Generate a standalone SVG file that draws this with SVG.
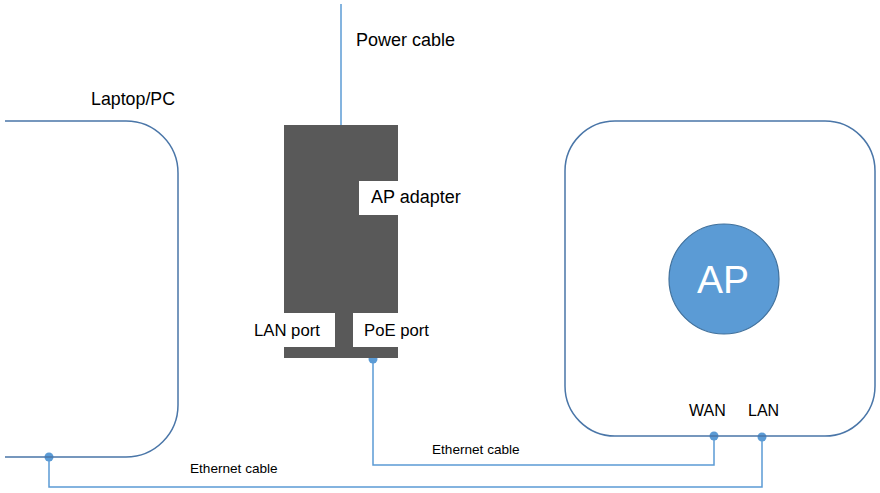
<svg xmlns="http://www.w3.org/2000/svg" width="880" height="493" viewBox="0 0 880 493">
<style>
text{font-family:"Liberation Sans",Arial,sans-serif;fill:#000}
.box{fill:none;stroke:#4a76a8;stroke-width:1.5}
.cable{fill:none;stroke:#5b9bd5;stroke-width:1.5}
.dot{fill:#5b9bd5}
.cut{fill:#fff}
</style>
<rect width="880" height="493" fill="#fff"/>
<g id="connectors">
<line class="cable" x1="341" y1="4" x2="341" y2="125"/>
<polyline class="cable" points="373,358 373,465 714,465 714,436"/>
<polyline class="cable" points="49,457 49,487 762,487 762,437"/>
<circle class="dot" cx="373" cy="359" r="4.5"/>
<circle class="dot" cx="714" cy="436" r="4.5"/>
<circle class="dot" cx="762" cy="437" r="4.5"/>
<circle class="dot" cx="49" cy="457" r="4.5"/>
<text x="356" y="46" font-size="18">Power cable</text>
<text x="432" y="454" font-size="13.6">Ethernet cable</text>
<text x="190" y="473" font-size="13.6">Ethernet cable</text>
</g>
<g id="laptop">
<path class="box" d="M5,121 H126 A52,52 0 0 1 178,173 V405 A52,52 0 0 1 126,457 H5"/>
<text x="91" y="105" font-size="17.8">Laptop/PC</text>
</g>
<g id="adapter">
<rect x="284" y="125" width="114" height="233" fill="#595959"/>
<rect class="cut" x="359" y="181" width="39" height="34"/>
<rect class="cut" x="284" y="313" width="51" height="34"/>
<rect class="cut" x="353" y="313" width="45" height="34"/>
<text x="371" y="203" font-size="18">AP adapter</text>
<text x="254" y="336" font-size="16.7">LAN port</text>
<text x="364" y="336" font-size="16.7">PoE port</text>
</g>
<g id="ap">
<rect class="box" x="565" y="121" width="310" height="315" rx="50" ry="50"/>
<circle cx="724" cy="279" r="55" fill="#5b9bd5" stroke="#41719c" stroke-width="1.2"/>
<text x="723" y="293" font-size="39" text-anchor="middle" style="fill:#fff">AP</text>
<text x="689" y="416" font-size="16">WAN</text>
<text x="748" y="416" font-size="16">LAN</text>
</g>
</svg>
